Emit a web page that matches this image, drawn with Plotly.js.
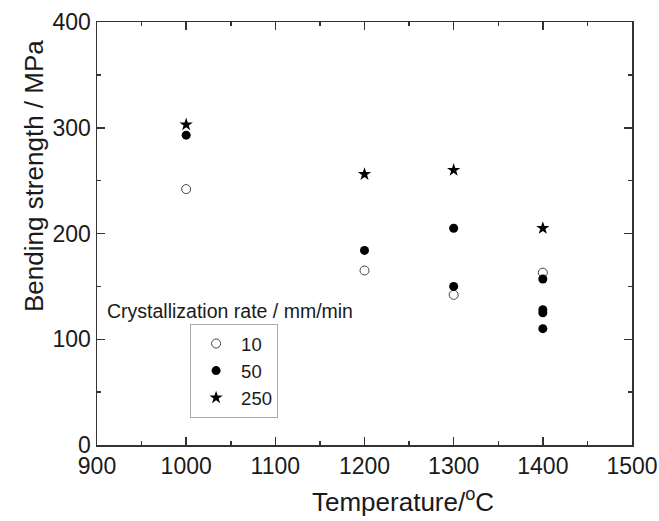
<!DOCTYPE html>
<html>
<head>
<meta charset="utf-8">
<script src="https://cdn.plot.ly/plotly-3.0.1.min.js"></script>
<style>html,body{margin:0;padding:0;background:#fff;}#chart{width:659px;height:521px;}</style>
</head>
<body>
<div id="chart"></div>
<script>
// Data
const seriesNames = ["10", "50", "250"];
const temp10 = [1000, 1200, 1300, 1400];
const strength10 = [242, 165, 142, 163];
const temp50 = [1000, 1200, 1300, 1300, 1400, 1400, 1400, 1400];
const strength50 = [293, 184, 205, 150, 157, 128, 125, 110];
const temp250 = [1000, 1200, 1300, 1400];
const strength250 = [303, 256, 260, 205];
const legendTitle = "Crystallization rate / mm/min";
const xTitle = "Temperature/<sup>o</sup>C";
const yTitle = "Bending strength / MPa";

const fontFamily = "Liberation Sans, Arial, sans-serif";
const ink = "#1a1a1a";

const traces = [
  {x: temp10, y: strength10, name: seriesNames[0], type: "scatter", mode: "markers",
   marker: {symbol: "circle-open", size: 9, color: "#444", line: {width: 1, color: "#444"}}},
  {x: temp50, y: strength50, name: seriesNames[1], type: "scatter", mode: "markers",
   marker: {symbol: "circle", size: 9, color: "#000"}},
  {x: temp250, y: strength250, name: seriesNames[2], type: "scatter", mode: "markers",
   marker: {symbol: "star", size: 10, color: "#000"}}
];

const axisCommon = {
  showline: true, linecolor: "#333", linewidth: 1.5, mirror: "allticks",
  ticks: "inside", ticklen: 8, tickwidth: 1.5, tickcolor: "#333",
  showgrid: false, zeroline: false,
  tickfont: {family: fontFamily, size: 23, color: ink}
};

const layout = {
  width: 659, height: 521,
  margin: {l: 97, r: 27, t: 22, b: 76},
  paper_bgcolor: "#fff", plot_bgcolor: "#fff",
  showlegend: true,
  xaxis: Object.assign({}, axisCommon, {
    range: [900, 1500], dtick: 100, tick0: 900,
    minor: {dtick: 50, ticks: "inside", ticklen: 4, tickwidth: 1.5, tickcolor: "#333"}
  }),
  yaxis: Object.assign({}, axisCommon, {
    range: [0, 400], dtick: 100, tick0: 0,
    minor: {dtick: 50, ticks: "inside", ticklen: 4, tickwidth: 1.5, tickcolor: "#333"}
  }),
  legend: {
    x: 0.174, y: (445 - 324) / 423, xanchor: "left", yanchor: "top",
    bgcolor: "#fff", bordercolor: "#aaa", borderwidth: 1,
    font: {family: fontFamily, size: 18.5, color: ink},
    itemwidth: 40
  },
  annotations: [
    {text: legendTitle, xref: "paper", yref: "paper",
     x: 0.248, y: 0.316, xanchor: "center", yanchor: "middle",
     showarrow: false, font: {family: fontFamily, size: 19.5, color: ink}},
    {text: xTitle, xref: "paper", yref: "paper",
     x: (403 - 97) / 535, y: -(500 - 445) / 423, xanchor: "center", yanchor: "middle",
     showarrow: false, font: {family: fontFamily, size: 26, color: ink}},
    {text: yTitle, xref: "paper", yref: "paper", textangle: -90,
     x: (34 - 97) / 535, y: (445 - 176) / 423, xanchor: "center", yanchor: "middle",
     showarrow: false, font: {family: fontFamily, size: 26, color: ink}}
  ]
};

Plotly.newPlot("chart", traces, layout, {displayModeBar: false, staticPlot: true});
</script>
</body>
</html>
